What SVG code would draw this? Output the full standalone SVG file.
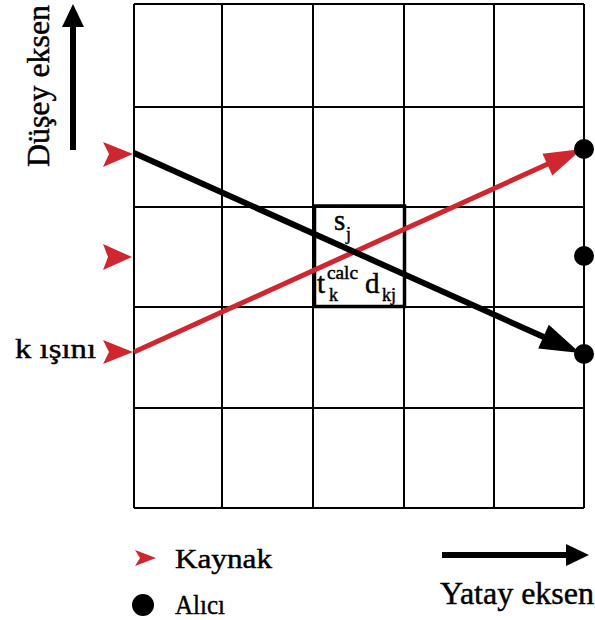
<svg xmlns="http://www.w3.org/2000/svg" width="595" height="620" viewBox="0 0 595 620">
<defs>
<style>
.grid{stroke:#000;stroke-width:2;fill:none}
.t{font-family:"Liberation Serif","DejaVu Serif",serif;fill:#000;stroke:#000;stroke-width:0.45}
.src{fill:#d0262f}
.rcv{fill:#000}
</style>
</defs>
<rect width="595" height="620" fill="#fff"/>
<g id="grid" class="grid">
<path d="M134 4V508M222 4V508M313 4V508M404 4V508M494 4V508M584 4V508"/>
<path d="M134 4H584M134 107H584M134 207H584M134 307H584M134 408H584M134 508H584"/>
</g>
<g id="cell">
<rect x="314.5" y="206" width="90" height="100.5" fill="none" stroke="#000" stroke-width="3.5"/>
</g>
<g id="connectors">
<line x1="134" y1="352" x2="550" y2="163" stroke="#d0262f" stroke-width="5"/>
<polygon points="582,149 552.3,175.6 542.5,153.8" fill="#d0262f"/>
<line x1="134" y1="153" x2="546" y2="338" stroke="#000" stroke-width="6"/>
<polygon points="580,353 538.2,348.6 548.8,324.8" fill="#000"/>
</g>
<g id="sources">
<polygon class="src" points="133,154 103,142 109,154 103,167"/>
<polygon class="src" points="132,257 103,244 108,257 103,270"/>
<polygon class="src" points="133,352 103,340 109,352 103,364"/>
</g>
<g id="receivers">
<circle class="rcv" cx="584" cy="149" r="10"/>
<circle class="rcv" cx="584" cy="256" r="10"/>
<circle class="rcv" cx="584" cy="354" r="10"/>
</g>
<g id="cell-labels">
<text class="t" x="334" y="230" font-size="29">s</text>
<text class="t" x="346" y="240" font-size="18">j</text>
<text class="t" x="317" y="293" font-size="29">t</text>
<text class="t" x="327" y="279" font-size="18" textLength="31" lengthAdjust="spacingAndGlyphs">calc</text>
<text class="t" x="329" y="301" font-size="18">k</text>
<text class="t" x="365" y="293" font-size="29">d</text>
<text class="t" x="382" y="301" font-size="18">kj</text>
</g>
<g id="ray-label">
<text class="t" x="15" y="358" font-size="28" textLength="81" lengthAdjust="spacingAndGlyphs">k ışını</text>
</g>
<g id="vertical-axis">
<line x1="73" y1="150" x2="73" y2="26" stroke="#000" stroke-width="6"/>
<polygon points="62,27 73,4 84,27" fill="#000"/>
<text class="t" font-size="32" transform="translate(49,167) rotate(-90)" textLength="162" lengthAdjust="spacingAndGlyphs">Düşey eksen</text>
</g>
<g id="horizontal-axis">
<line x1="442" y1="555" x2="567" y2="555" stroke="#000" stroke-width="6"/>
<polygon points="566,544 589,555 566,566" fill="#000"/>
<text class="t" x="440" y="604" font-size="31" textLength="154" lengthAdjust="spacingAndGlyphs">Yatay eksen</text>
</g>
<g id="legend">
<polygon class="src" points="156,558 135,550 140,558 135,566"/>
<text class="t" x="175" y="568" font-size="28" textLength="97" lengthAdjust="spacingAndGlyphs">Kaynak</text>
<circle class="rcv" cx="143" cy="605" r="11"/>
<text class="t" x="175" y="614" font-size="28" textLength="50" lengthAdjust="spacingAndGlyphs">Alıcı</text>
</g>
</svg>
